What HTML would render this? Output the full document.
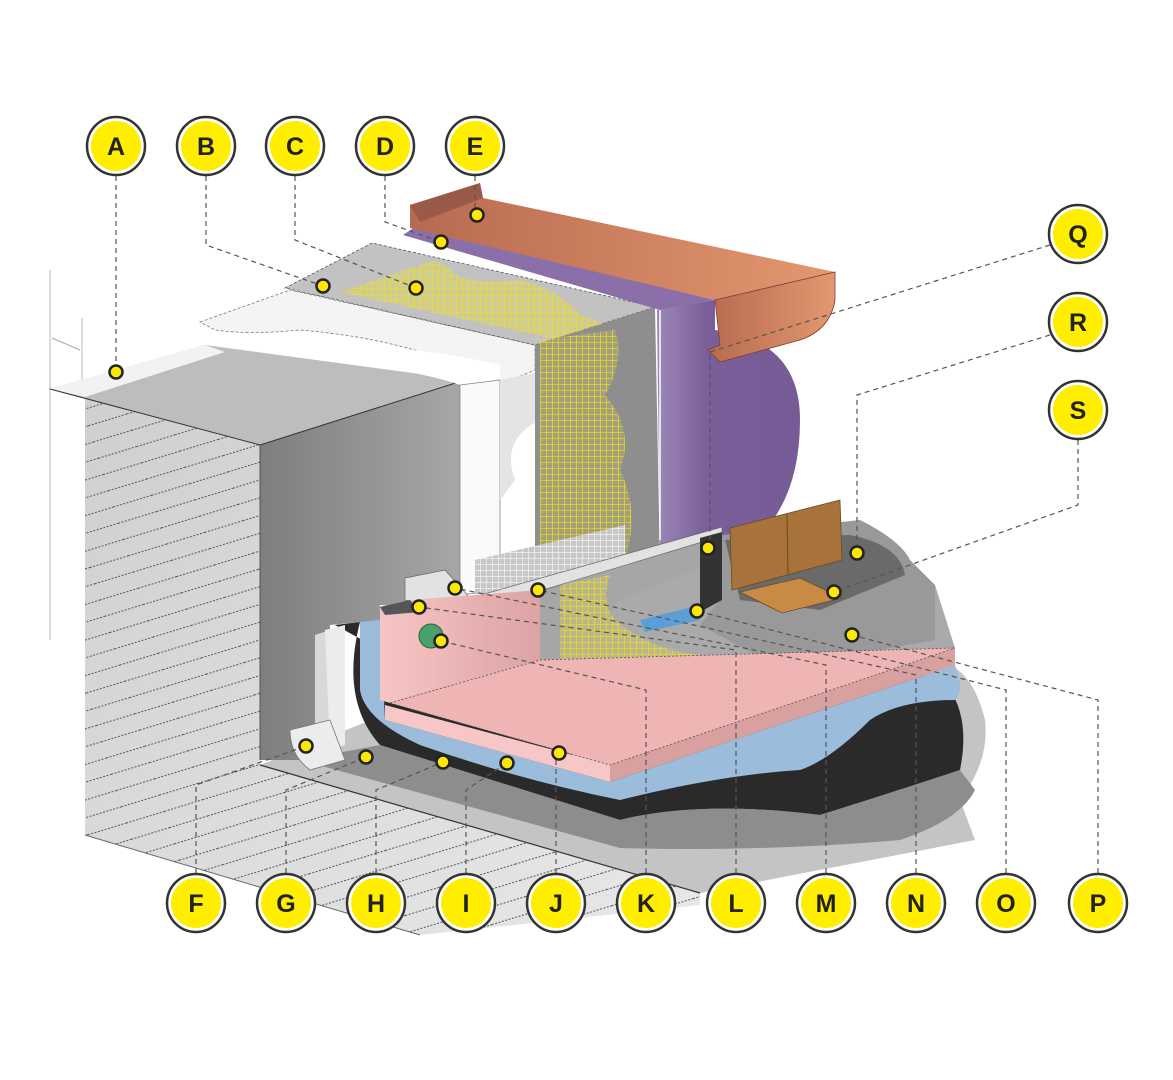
<!DOCTYPE html>
<html><head><meta charset="utf-8"><style>
html,body{margin:0;padding:0;background:#fff;}
svg{display:block}
text{font-family:"Liberation Sans",sans-serif;font-weight:bold;font-size:25px;fill:#222;text-anchor:middle;dominant-baseline:central}
</style></head><body>
<svg width="1173" height="1080" viewBox="0 0 1173 1080" xmlns="http://www.w3.org/2000/svg">
<defs>
<pattern id="hatch" width="40" height="17" patternUnits="userSpaceOnUse" patternTransform="rotate(-17)">
<line x1="0" y1="8" x2="40" y2="8" stroke="#555" stroke-width="0.9" stroke-dasharray="2 1.5"/>
</pattern>
<pattern id="mesh" width="6" height="6" patternUnits="userSpaceOnUse">
<path d="M0 0H6M0 0V6" stroke="#f2e21a" stroke-width="1.3"/>
</pattern>
<pattern id="wmesh" width="6" height="6" patternUnits="userSpaceOnUse">
<path d="M0 0H6M0 0V6" stroke="#fff" stroke-width="1.2"/>
</pattern>
<linearGradient id="wallL" x1="0" y1="0" x2="1" y2="1"><stop offset="0" stop-color="#cfcfcf"/><stop offset="1" stop-color="#e8e8e8"/></linearGradient>
<linearGradient id="reveal" x1="0" y1="0" x2="1" y2="0"><stop offset="0" stop-color="#7e7e7e"/><stop offset="1" stop-color="#a8a8a8"/></linearGradient>
<linearGradient id="copper" x1="0" y1="0" x2="1" y2="0"><stop offset="0" stop-color="#b86a50"/><stop offset="1" stop-color="#e29870"/></linearGradient>
<linearGradient id="purp" x1="0" y1="0" x2="1" y2="0"><stop offset="0" stop-color="#9c88b8"/><stop offset="0.35" stop-color="#7a5e9a"/><stop offset="1" stop-color="#765b96"/></linearGradient>
<linearGradient id="pinkg" x1="0" y1="0" x2="1" y2="0"><stop offset="0" stop-color="#f7c5c5"/><stop offset="1" stop-color="#dca3a3"/></linearGradient>
</defs>

<line x1="50" y1="270" x2="50" y2="640" stroke="#bbb" stroke-width="1"/>
<line x1="82" y1="318" x2="82" y2="380" stroke="#bbb" stroke-width="1"/>
<line x1="52" y1="338" x2="80" y2="350" stroke="#aaa" stroke-width="1"/>

<path d="M260,765 L700,893 Q820,870 975,840 L960,800 Q990,760 985,720 Q975,680 955,668 L420,700 Z" fill="#c4c4c4"/>
<path d="M85,397 L260,445 L260,765 L700,893 L700,905 L420,935 L85,835 Z" fill="url(#wallL)"/>
<path d="M85,397 L260,445 L260,765 L700,893 L700,905 L420,935 L85,835 Z" fill="url(#hatch)"/>
<path d="M85,835 L420,935" stroke="#666" stroke-width="1"/>
<path d="M260,765 L700,893" stroke="#333" stroke-width="1.2"/>
<path d="M335,625 L360,622 Q340,700 380,745 L620,820 Q700,800 820,815 Q900,790 960,770 Q970,720 950,690 L920,672 L600,770 Z" fill="#2a2a2a"/>
<path d="M300,760 L620,848 Q760,852 900,840 Q960,820 975,790 L960,770 Q900,790 820,815 Q700,800 620,820 L380,745 Z" fill="#8d8d8d"/>
<path d="M360,622 L380,615 L385,720 L610,782 L955,665 Q965,690 955,700 Q900,700 870,720 Q830,760 800,770 Q720,775 620,800 Q520,780 420,745 Q365,720 360,690 Z" fill="#9cbcdc"/>
<path d="M260,445 L465,380 L465,610 L380,605 L380,620 L330,625 L330,760 L260,760 Z" fill="url(#reveal)"/>
<path d="M315,635 L330,630 L330,740 L315,745 Z" fill="#d8d8d8"/>
<path d="M325,630 L345,625 L345,745 L330,750 Z" fill="#ececec"/>
<path d="M290,730 L330,720 L345,760 L310,770 Q290,755 290,730Z" fill="#ececec" stroke="#777" stroke-width="0.8"/>
<path d="M50,389 L205,345 L465,380 L260,445 Z" fill="#bdbdbd"/>
<path d="M50,389 L205,345 L225,352 L85,397 Z" fill="#f2f2f2"/>
<path d="M50,389 L260,445 L465,380" fill="none" stroke="#333" stroke-width="1"/>
<line x1="260" y1="445" x2="260" y2="760" stroke="#555" stroke-width="1"/>
<path d="M200,322 L290,290 L535,345 L535,370 L500,385 Q420,340 300,330 Q250,335 215,330 Z" fill="#f4f4f4" stroke="#777" stroke-width="0.8" stroke-dasharray="3 2"/>
<path d="M245,345 Q400,340 500,365 L500,385 L460,385 Q420,370 245,345Z" fill="#fff"/>
<path d="M460,385 L500,380 L500,590 L460,595 Z" fill="#fafafa" stroke="#888" stroke-width="0.8"/>
<path d="M500,380 L540,372 L540,420 Q500,440 515,480 L500,500 Z" fill="#e4e4e4"/>
<path d="M285,288 L372,243 L655,307 L535,345 Z" fill="#c2c2c2" stroke="#555" stroke-width="0.8" stroke-dasharray="3 2"/>
<path d="M340,292 L420,265 Q440,255 455,275 Q480,285 520,280 Q560,290 580,315 Q610,325 620,335 L560,340 Z" fill="url(#mesh)"/>
<path d="M340,292 L420,265 Q440,255 455,275 Q480,285 520,280 Q560,290 580,315 Q610,325 620,335 L560,340 Z" fill="#e8dc40" opacity="0.35"/>
<path d="M535,345 L655,307 L660,565 L535,600 Z" fill="#8e8e8e"/>
<path d="M540,340 L615,330 Q625,360 605,395 Q635,430 620,470 Q640,510 625,560 L540,585 Z" fill="url(#mesh)"/>
<path d="M540,340 L615,330 Q625,360 605,395 Q635,430 620,470 Q640,510 625,560 L540,585 Z" fill="#e8dc40" opacity="0.25"/>
<path d="M475,560 L625,525 L625,570 L475,605 Z" fill="#c8c8c8"/>
<path d="M475,560 L625,525 L625,570 L475,605 Z" fill="url(#wmesh)" opacity="0.9"/>
<path d="M403,235 L415,227 L715,300 L660,310 Z" fill="#8a6fa8"/>
<path d="M657,310 L715,300 L715,330 Q800,340 800,420 Q800,490 765,530 L660,560 Z" fill="url(#purp)"/>
<line x1="660" y1="310" x2="660" y2="540" stroke="#fff" stroke-width="1.5"/>
<path d="M410,205 L480,183 L483,198 L835,272 L715,300 L410,228 Z" fill="url(#copper)"/>
<path d="M410,205 L480,183 L483,198 L420,222 Z" fill="#9a5a48"/>
<path d="M715,300 L835,272 L835,300 Q830,330 800,340 L720,362 L708,350 L720,345 Z" fill="url(#copper)" stroke="#7a4030" stroke-width="0.8"/>
<!-- gray behind floor area -->
<path d="M540,592 L722,535 L722,605 L935,640 L955,648 L540,660 Z" fill="#a6a6a6"/>
<!-- sill profile thin -->
<path d="M405,578 L445,570 L470,598 L722,527 L722,536 L470,612 L405,600 Z" fill="#e2e2e2" stroke="#666" stroke-width="0.7"/>
<path d="M620,600 Q600,620 625,640 Q660,660 720,665 L955,648 L935,585 L720,560 Z" fill="#aaaaaa"/>
<path d="M560,585 L610,575 Q600,600 615,620 Q650,650 700,655 Q750,660 780,675 L700,695 L560,665 Z" fill="url(#mesh)"/>
<path d="M560,585 L610,575 Q600,600 615,620 Q650,650 700,655 Q750,660 780,675 L700,695 L560,665 Z" fill="#e8dc40" opacity="0.3"/>
<path d="M722,535 L860,520 Q900,540 910,560 L935,585 L935,640 L780,668 L700,625 L720,600 Z" fill="#999"/>
<path d="M725,540 L850,535 Q900,545 905,575 L820,610 L740,600 Z" fill="#6a6a6a"/>
<path d="M700,538 L722,532 L722,600 L700,612 Z" fill="#333"/>
<path d="M640,620 L700,605 L700,620 L645,632 Z" fill="#5c9fd6"/>
<path d="M730,528 L840,500 L842,560 L732,590 Z" fill="#a8733a" stroke="#6a4a20" stroke-width="0.8"/>
<line x1="787" y1="514" x2="788" y2="575" stroke="#6a4a20"/>
<path d="M740,592 L800,578 L842,598 L782,613 Z" fill="#c98a45" stroke="#6a4a20" stroke-width="0.8"/>
<path d="M380,607 L410,600 L540,590 L540,660 L390,703 L380,700 Z" fill="url(#pinkg)"/>
<path d="M380,607 L410,600 L420,612 L385,615 Z" fill="#555"/>
<circle cx="431" cy="636" r="12" fill="#4aa06a" stroke="#2a6040"/>
<path d="M390,703 L540,660 L955,648 L610,765 Z" fill="#efb4b4"/>
<path d="M385,705 L610,765 L610,782 L385,720 Z" fill="#f7c6c6"/>
<path d="M610,765 L955,648 L955,665 L610,782 Z" fill="#d9a0a0"/>
<path d="M390,703 L540,660 L955,648 M390,703 L610,765 L955,648" fill="none" stroke="#555" stroke-width="0.8" stroke-dasharray="2 2"/>

<g fill="none" stroke="#555" stroke-width="1.2" stroke-dasharray="5 4">
<path d="M116,176 V372"/>
<path d="M206,176 V245 L323,286"/>
<path d="M295,176 V240 L416,288"/>
<path d="M385,176 V222 L441,242"/>
<path d="M475,176 V215"/>
<path d="M1050,245 L710,352 V548"/>
<path d="M1050,335 L857,395 V553"/>
<path d="M1078,440 V505 L834,592"/>
<path d="M1098,873 V700 L852,635"/>
<path d="M1006,873 V690 L697,611"/>
<path d="M916,873 V675 L538,590"/>
<path d="M826,873 V665 L455,588"/>
<path d="M736,873 V650 L419,607"/>
<path d="M646,873 V690 L441,641"/>
<path d="M556,873 V753"/>
<path d="M466,873 V790 L507,763"/>
<path d="M376,873 V790 L443,762"/>
<path d="M286,873 V790 L366,757"/>
<path d="M196,873 V785 L306,746"/>
</g>
<g fill="#ffe800" stroke="#222" stroke-width="2.5">
<circle cx="116" cy="372" r="6.5"/><circle cx="323" cy="286" r="6.5"/><circle cx="416" cy="288" r="6.5"/>
<circle cx="441" cy="242" r="6.5"/><circle cx="477" cy="215" r="6.5"/><circle cx="708" cy="548" r="6.5"/>
<circle cx="857" cy="553" r="6.5"/><circle cx="834" cy="592" r="6.5"/><circle cx="852" cy="635" r="6.5"/>
<circle cx="697" cy="611" r="6.5"/><circle cx="538" cy="590" r="6.5"/><circle cx="455" cy="588" r="6.5"/>
<circle cx="419" cy="607" r="6.5"/><circle cx="441" cy="641" r="6.5"/><circle cx="559" cy="753" r="6.5"/>
<circle cx="507" cy="763" r="6.5"/><circle cx="443" cy="762" r="6.5"/><circle cx="366" cy="757" r="6.5"/>
<circle cx="306" cy="746" r="6.5"/>
</g>
<g stroke="#333" stroke-width="2.5" fill="#fff">
<circle cx="116" cy="146" r="29"/><circle cx="206" cy="146" r="29"/><circle cx="295" cy="146" r="29"/><circle cx="385" cy="146" r="29"/><circle cx="475" cy="146" r="29"/>
<circle cx="1078" cy="234" r="29"/><circle cx="1078" cy="322" r="29"/><circle cx="1078" cy="410" r="29"/>
<circle cx="196" cy="903" r="29"/><circle cx="286" cy="903" r="29"/><circle cx="376" cy="903" r="29"/><circle cx="466" cy="903" r="29"/><circle cx="556" cy="903" r="29"/><circle cx="646" cy="903" r="29"/><circle cx="736" cy="903" r="29"/><circle cx="826" cy="903" r="29"/><circle cx="916" cy="903" r="29"/><circle cx="1006" cy="903" r="29"/><circle cx="1098" cy="903" r="29"/>
</g>
<g fill="#ffee00">
<circle cx="116" cy="146" r="25"/><circle cx="206" cy="146" r="25"/><circle cx="295" cy="146" r="25"/><circle cx="385" cy="146" r="25"/><circle cx="475" cy="146" r="25"/>
<circle cx="1078" cy="234" r="25"/><circle cx="1078" cy="322" r="25"/><circle cx="1078" cy="410" r="25"/>
<circle cx="196" cy="903" r="25"/><circle cx="286" cy="903" r="25"/><circle cx="376" cy="903" r="25"/><circle cx="466" cy="903" r="25"/><circle cx="556" cy="903" r="25"/><circle cx="646" cy="903" r="25"/><circle cx="736" cy="903" r="25"/><circle cx="826" cy="903" r="25"/><circle cx="916" cy="903" r="25"/><circle cx="1006" cy="903" r="25"/><circle cx="1098" cy="903" r="25"/>
</g>
<text x="116" y="147">A</text><text x="206" y="147">B</text><text x="295" y="147">C</text><text x="385" y="147">D</text><text x="475" y="147">E</text>
<text x="1078" y="235">Q</text><text x="1078" y="323">R</text><text x="1078" y="411">S</text>
<text x="196" y="904">F</text><text x="286" y="904">G</text><text x="376" y="904">H</text><text x="466" y="904">I</text><text x="556" y="904">J</text><text x="646" y="904">K</text><text x="736" y="904">L</text><text x="826" y="904">M</text><text x="916" y="904">N</text><text x="1006" y="904">O</text><text x="1098" y="904">P</text>
</svg>
</body></html>
